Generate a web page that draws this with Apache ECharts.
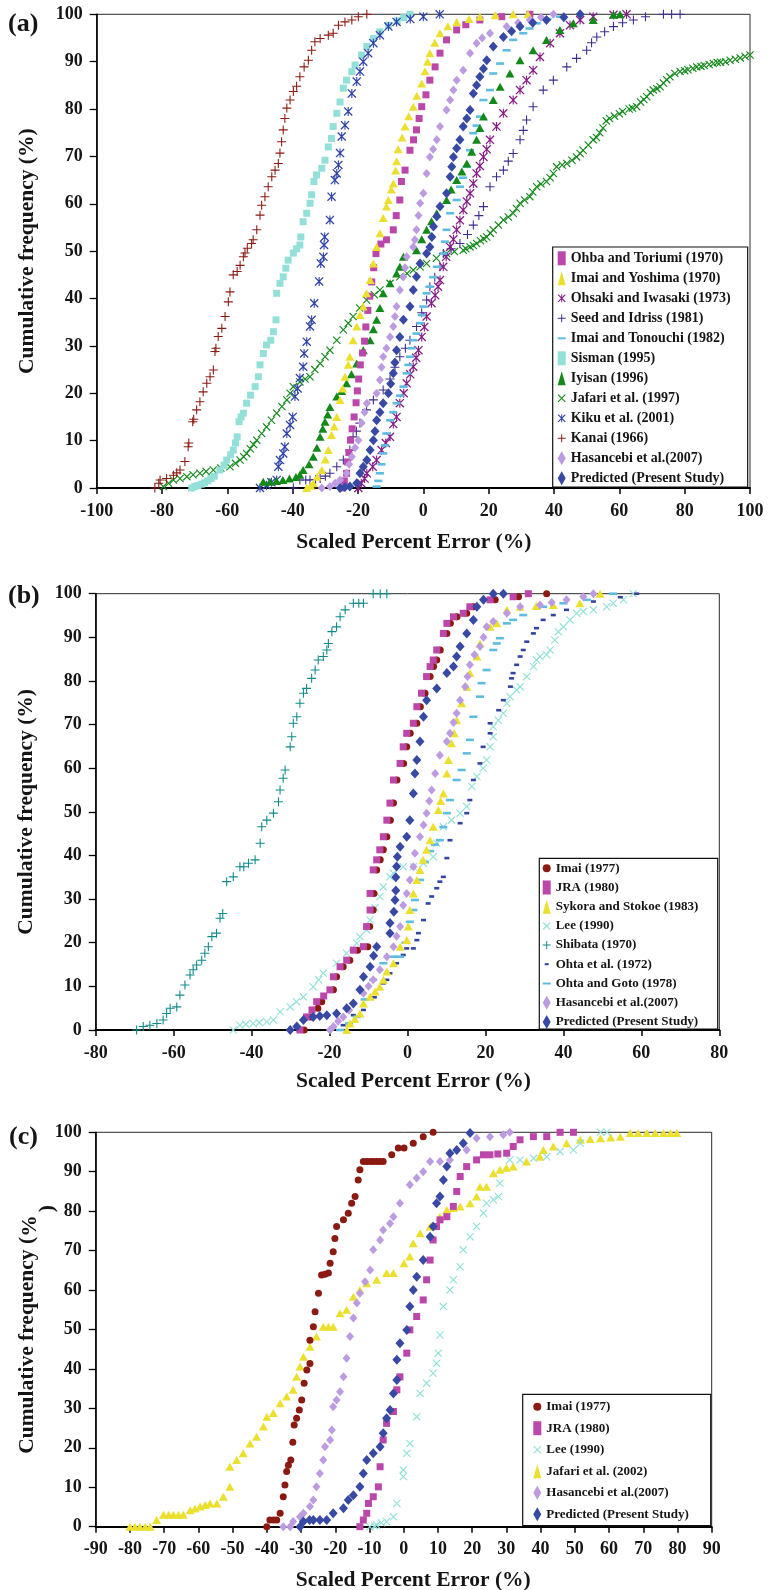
<!DOCTYPE html>
<html>
<head>
<meta charset="utf-8">
<script src="https://cdn.jsdelivr.net/npm/echarts@6.0.0/dist/echarts.min.js"></script>
<style>
html,body{margin:0;padding:0;background:#fff}
#chart{width:778px;height:1590px}
</style>
</head>
<body>
<div id="chart"></div>
<script>
// ---------- Panel (a): scaled percent error vs cumulative frequency ----------
const ohbaA = [[-25,0],[-24.2,1.5],[-23.5,3.1],[-23.2,5.5],[-22.8,7.5],[-22.3,10.1],[-21.8,12.5],[-21.2,15],[-20.6,18],[-20.2,20.5],[-19.8,23],[-19.3,26],[-18.6,28.5],[-18,31],[-17.6,34],[-17,37.5],[-16.4,40.5],[-15.8,43.5],[-15.2,46.5],[-14.5,49.5],[-13,51.5],[-11.3,52.4],[-9.2,54.5],[-8.3,57.5],[-7.2,60.8],[-6.7,64.7],[-5.6,67.1],[-4.1,71.3],[-3,73.5],[-2.1,75.6],[-1.3,78],[-0.5,80.5],[0.8,83],[2,86.1],[3.6,88.9],[5.1,91.8],[7.1,94.6],[10.2,96.7],[13,97.8],[17.3,98.8],[24,99.5],[32.6,100]];
const yoshimaA = [[-35.7,0],[-34.5,0.5],[-33.7,1],[-32.5,2.4],[-31.1,3.8],[-30,6],[-29.1,8],[-28.1,11.2],[-27.3,13],[-26.5,15],[-25.5,18.6],[-24.7,21],[-24,23.5],[-23,26],[-22.5,27.7],[-21.5,31.2],[-20.4,34.1],[-19.4,36.5],[-18.4,38.3],[-17.4,41.1],[-16.3,43.9],[-15.3,47.4],[-14.3,50.9],[-13.3,53.8],[-12.3,57],[-11.3,59.4],[-10.7,60.8],[-9.8,63],[-9.2,64.3],[-8.5,67],[-8.2,69],[-7.7,71.5],[-6.5,74],[-5.6,76.3],[-4.5,78.5],[-3.1,80.5],[-2,82.8],[-0.5,85.4],[0.5,88],[1.3,90],[2,91.8],[3.5,94],[5.1,96],[7.5,97.5],[10.2,98.4],[14,99],[17.3,99.5],[22,99.8],[27.5,100],[32,100]];
const ohsakiA = [[-19.9,0],[-19,1],[-18,2],[-17.3,3.1],[-15.5,4.5],[-14.3,5.9],[-12.8,8],[-11.5,9.5],[-10.2,10.8],[-9.2,13.5],[-8.2,15],[-7.2,17.9],[-6,20],[-5.1,22.1],[-4,24],[-3.1,25.6],[-2.2,27.5],[-1.5,29.1],[-0.5,31.9],[0.3,34],[1,36.2],[2.5,39],[3.6,40.7],[4.5,42.5],[5.1,43.9],[6.1,46.7],[7,48.8],[8.2,50.9],[9.2,52.5],[10.2,54.5],[11.2,56.5],[12.2,58.7],[13.3,60.5],[14.3,62.2],[15.3,64.3],[16.3,66.4],[17.3,68],[18.4,69.9],[19.4,71.5],[20.4,73.5],[22.4,76.3],[24.5,79.1],[27.5,81.9],[29.6,84],[31.6,86.1],[33.6,88.2],[35.7,91],[38.8,93.9],[41.8,96],[44.9,97.7],[48,98.8],[52,99.5],[58.2,99.9],[62.2,100]];
const seedA = [[-39.8,0],[-37.8,1.7],[-36,1.7],[-34.7,1.7],[-33,1.8],[-31.6,2],[-30,2.5],[-28.6,3.1],[-26.5,4.5],[-24.5,5.9],[-22.5,8],[-21.5,10.8],[-20.5,12],[-19.4,13.7],[-17.4,16.5],[-15.3,18.6],[-12.3,20.7],[-10.2,23],[-8.7,25.5],[-7.2,27.7],[-5.5,29.5],[-4.1,31.2],[-2.1,34.1],[-0.5,37],[1,39.7],[2,42.5],[3.5,44.5],[5.1,46.7],[6.1,49.5],[8.5,50.5],[11.2,51.6],[13.5,53.5],[15.3,55.5],[17,57.5],[18.4,59.4],[20.4,63.6],[22.4,65.7],[24.5,67.1],[26,69],[27.5,70.6],[29.6,73.5],[30.6,75.5],[31.6,77.7],[33.6,80.5],[36.7,84],[39.8,86.1],[43.9,88.9],[46.9,90.7],[50,92.4],[51.5,94],[53.1,95.2],[55.5,96.3],[58.2,97.4],[61,98.2],[64.3,98.8],[68,99.5],[73.5,100],[76,100],[78.6,100]];
const tonouchiA = [[-14.3,0.3],[-13.8,1.5],[-13.3,3.1],[-12.8,5],[-12.3,7.3],[-11.8,9],[-11.3,11.5],[-10.2,14.3],[-9.2,16],[-8.2,17.9],[-7.2,19.5],[-6.1,21.4],[-5.1,24.2],[-4.6,26],[-4.1,27.7],[-3.6,29.5],[-3.1,31.2],[-2.1,32.6],[-1,34.8],[-0.5,36.5],[0,38.3],[1,41.1],[2,42.5],[3,44.5],[4.1,46.7],[6.1,49.5],[6.6,52],[7.1,54.5],[8.2,58],[10.2,60.8],[11.2,63.6],[12.2,65.5],[13.3,67.8],[14.3,71.3],[15.3,74.9],[16.3,76.5],[17.3,78.4],[18.4,81.9],[20.4,84],[21.4,87.5],[23.5,89.6],[25.5,92.4],[27.5,94.6],[30.6,96],[32.5,97],[34.7,98.1],[38,99],[41.8,99.5],[48,100]];
const sismanA = [[-70.9,0],[-70,0.3],[-69,0.5],[-68,0.8],[-67,1.1],[-66,1.5],[-65,2],[-64,2.5],[-62.3,3.8],[-61,4.8],[-60.2,5.9],[-59,7],[-58.2,8],[-57.5,9.5],[-57,10.8],[-56.4,14],[-55.8,15],[-55.1,15.8],[-54.1,17.9],[-52.9,19.6],[-51.5,21.4],[-50.5,23.5],[-50,26],[-49,28.4],[-48,30.2],[-46.7,31.2],[-45.9,33],[-45.1,35.5],[-44.9,41.1],[-43.9,43.2],[-42.9,44.6],[-42.1,46.4],[-41.4,48.1],[-39.8,49.6],[-38.8,50.5],[-37.8,51.3],[-37.5,53],[-36.8,56.2],[-35.7,58],[-34.7,60.1],[-34.2,61.9],[-33.5,64.7],[-32.7,66.1],[-31.1,67.5],[-30.1,69.2],[-29.1,72],[-28.1,73.8],[-27.6,76.3],[-26.5,79.1],[-25.5,81.5],[-24.5,84.4],[-23.5,86.1],[-21.9,87.9],[-20.9,89.3],[-18.9,91.4],[-17.3,93.2],[-15.3,94.9],[-13.3,96.3],[-10.7,97.7],[-8,98.6],[-6,99.3],[-4.1,100]];
const iyisanA = [[-49,1.3],[-47,1.3],[-45,1.5],[-43,1.7],[-41,2],[-39,2.3],[-37.8,2.8],[-36.8,3.8],[-35,5],[-33.7,6.6],[-32.6,8.5],[-31.6,10.8],[-30.8,12.5],[-30.1,14],[-29.3,15.5],[-28.6,17.1],[-26.5,19.3],[-25,20.5],[-23.5,22.1],[-22,24],[-20.4,26.3],[-18.4,29.1],[-16.3,31.2],[-15.3,33.5],[-14.3,35.5],[-13.3,38],[-12.3,41.1],[-10.2,43.2],[-8.2,45.3],[-7.2,46.7],[-6.1,48.8],[-2.1,50.2],[-0.5,52.5],[1,54.5],[2.5,56.3],[4.1,58],[7.1,60.8],[8.5,63],[10.2,65],[11.8,66.8],[13.3,68.5],[14.8,71],[16.3,73.5],[17.3,76],[18.4,78.4],[21.4,81.9],[23.5,84.7],[26.5,87.5],[29.6,90.3],[33.6,92.4],[37.7,94.6],[41.8,96.7],[45.9,98.1],[52,98.8],[58.2,99.9],[60.2,100]];
const jafariA = [[-79.6,0.3],[-78,1],[-76.5,1.7],[-74.5,2],[-72.4,2.4],[-70.5,2.8],[-68.4,3.1],[-66.5,3.5],[-64.3,3.8],[-62,4.2],[-59.2,4.5],[-57.5,5.2],[-56.1,5.9],[-55,6.6],[-54.1,7.3],[-53,8.3],[-52,9.2],[-51,10.1],[-49.5,11.5],[-48,12.9],[-46.5,14.3],[-44.9,15.8],[-43.3,17.2],[-41.8,18.6],[-40.8,20],[-39.8,21.4],[-37.8,22.4],[-36.2,23],[-34.7,23.5],[-33.2,25],[-31.6,26.3],[-30.1,27.7],[-28.6,29.1],[-26.5,31.2],[-24.5,33.4],[-23,34.8],[-21.5,36.2],[-19.5,38],[-17.4,39.7],[-15,40.8],[-13.3,41.8],[-10.2,43.2],[-7.2,44.6],[-5,45.3],[-3.1,46],[-1,46.7],[1,47.4],[4,48.5],[7.1,49.5],[9.5,49.9],[12.2,50.2],[13,50.5],[14.3,50.9],[15.3,51.2],[16.3,51.6],[17.5,52.2],[18.5,52.6],[19.4,53],[20.5,53.8],[21.4,54.5],[23,55.5],[24.5,56.6],[26,57.2],[27.5,58],[28.5,59],[29.6,60.1],[31,60.8],[32.6,61.5],[33.5,62.5],[34.7,63.6],[36,64.2],[37.7,64.7],[38.8,65.5],[39.8,66.4],[40.8,67.8],[42.5,68.2],[43.9,68.5],[45.5,69.2],[46.9,69.9],[48,70.6],[48.9,71.3],[50.5,72.4],[52,73.5],[53,74],[54,75],[55,76],[56,77.5],[57,78],[58.5,78.5],[60,79],[61,79.5],[63,80],[64,80.2],[65.3,80.5],[66.5,81.5],[67.5,82],[68.4,82.6],[69.5,83.5],[70.4,84],[71.5,84.3],[72.5,84.7],[73.5,85.5],[74.5,86.2],[75.5,86.8],[77,87.5],[78.6,87.9],[80,88.1],[81,88.3],[82.5,88.6],[83.7,88.9],[85,89],[86,89.2],[87.5,89.4],[88.8,89.6],[90,89.8],[91,89.9],[92.5,90],[93.9,90.3],[95.5,90.5],[97,90.8],[98.5,91.1],[100,91.4]];
const kikuA = [[-50,0],[-48,0.6],[-46.5,1.2],[-44.9,1.7],[-44.4,4.5],[-43.9,5.9],[-42.9,7.3],[-42.4,8.7],[-41.8,11.5],[-40.8,13.3],[-40,15],[-39.3,19.3],[-38.5,21],[-37.8,23.2],[-36.8,25.6],[-36.5,28.4],[-35.7,30.9],[-34.7,34.1],[-34.2,35.5],[-33.4,39],[-31.9,43.6],[-31.4,47.4],[-30.6,48.8],[-30.4,51.3],[-30.2,53],[-28.6,56.6],[-28.1,61.5],[-27.1,65],[-26.5,66.4],[-26,68.2],[-25.5,70.7],[-25,74.2],[-24,76.6],[-23,79.5],[-21.9,83.3],[-20.4,85.8],[-19.4,87.9],[-18.4,90],[-16.9,91.8],[-15.3,93.9],[-13.3,95.6],[-10.7,97.4],[-8.2,98.4],[-4,99],[0,99.5],[5,100]];
const kanaiA = [[-82.2,0],[-81,1],[-80.6,1.7],[-78.6,2],[-76.5,2.7],[-75.5,3.2],[-74.5,3.8],[-73,5.6],[-72,8.7],[-71.8,9.5],[-70.6,14],[-70.3,14.5],[-69.4,16.5],[-68.4,18.2],[-67.4,20.3],[-66.3,22.1],[-65.3,23.5],[-64.3,24.9],[-63.8,28.8],[-63.5,29.5],[-62.8,32],[-61.7,33.7],[-60.7,36.2],[-59.7,39.3],[-59.2,41.4],[-58.2,45],[-57,45.7],[-56.1,47],[-55.1,48.8],[-54.6,49.6],[-53.9,50.6],[-52.6,51.6],[-52.1,52.4],[-51,54.5],[-50,57.6],[-49.5,59.7],[-48.5,61.5],[-47.5,63.6],[-46.4,65.7],[-45.4,67.1],[-44.4,68.5],[-43.9,70.7],[-43.4,73.1],[-42.9,75.6],[-42.4,78],[-41.8,80.2],[-40.8,81.9],[-39.8,83.7],[-38.8,84.8],[-37.8,86.8],[-36.5,88.9],[-35.2,90.3],[-34.2,92.4],[-33.2,94.2],[-31.6,94.9],[-29.1,95.6],[-27.6,96],[-26,97.7],[-24,98.4],[-21.9,98.8],[-19.9,99.5],[-17.3,100]];
const hasancebiA = [[-31.1,0],[-28.6,0.3],[-27,1],[-25.5,1.7],[-23.5,3.1],[-22.7,5],[-21.9,6.6],[-20.9,8.5],[-19.9,10.1],[-18.9,13.7],[-18,16],[-17.3,17.9],[-14.3,20],[-13.3,22.8],[-12.8,25.5],[-12.3,27.7],[-11.3,29.5],[-10.2,31.9],[-9.2,34.1],[-8.7,36.2],[-8.2,38.3],[-7.2,41.8],[-6.1,44.6],[-5.6,46.5],[-5.1,48.8],[-3.1,50.9],[-2.6,52.4],[-2.1,54.5],[-1.5,57.5],[-1,60.1],[0,62.2],[1,66.4],[2,69.9],[3,71.5],[4.1,73.5],[5.1,76.3],[7.1,79.8],[8.2,81.9],[9.2,84],[10.2,86.1],[12.2,88.2],[14.3,91.8],[16.3,93.9],[18,95],[20.4,96],[25.5,97.4],[29,98.2],[32.6,98.8],[36,99.4],[39.8,100]];
const predictedA = [[-25.5,0],[-24,0.2],[-22.5,0.3],[-20.4,1],[-19.4,3.1],[-18.4,4.5],[-17.3,5.9],[-16.3,8],[-15.3,10.1],[-14.8,12],[-14.3,14.3],[-13.3,16],[-12.3,17.9],[-10.7,20],[-10,22],[-9.2,24.2],[-8.7,26.5],[-8.2,29.1],[-7.2,31.9],[-6.1,35.5],[-4.1,38.3],[-3.1,41.8],[-2.1,44.6],[-1,47.4],[1,49.5],[2,50.9],[2.6,53],[3.1,55.2],[4.1,57.3],[5.1,59.4],[7.1,62.2],[8.2,65.7],[8.7,67.8],[9.2,69.9],[10.2,71.7],[11.2,73.5],[12.2,76.3],[13.3,78],[14.3,79.8],[15.3,83.3],[16.3,85],[17.3,86.8],[18.4,88.5],[19.4,90.3],[21.4,93.2],[24.5,95.2],[27,96.4],[29.6,97.4],[33.5,98.2],[37.7,98.8],[43,99.4],[48,100]];

// ---------- Panel (b) ----------
const imaiB = [[-26.5,0],[-24.8,3],[-23,5],[-22,6.5],[-19,9.2],[-18.2,12.2],[-16.5,14.5],[-14.8,16],[-12.8,18.3],[-10.2,19.1],[-9.7,23.7],[-8.8,27.5],[-8.6,31.3],[-7.9,36.7],[-7,39],[-6.2,41.3],[-5.3,44.3],[-4.4,48.1],[-3.6,52],[-2.7,57.3],[-1,61.1],[-0.2,64.9],[0.7,68],[2.4,70.3],[3.3,74.1],[4.5,77.2],[5.8,81],[6.7,83.3],[7.5,84.8],[8.4,87.1],[10.1,90.9],[11,93.2],[12.7,94.7],[15.2,95.5],[17,97],[22.5,98.6],[28.5,99.3],[35.7,100]];
const jraB = [[-27.6,0],[-25.9,3],[-24.5,4.6],[-23.3,6.5],[-21.5,7.8],[-19.9,9.2],[-19,12.2],[-17.3,14.5],[-15.6,16],[-13.9,18.3],[-11.3,19.1],[-10.5,23.7],[-9.6,27.5],[-9.6,31.3],[-8.8,36.7],[-7.9,39],[-7.1,41.3],[-6.2,44.3],[-5.3,48.1],[-4.5,52],[-3.6,57.3],[-1.9,61.1],[-1.1,64.9],[-0.2,68],[1.5,70.3],[2.4,74.1],[3.6,77.2],[4.9,81],[5.8,83.3],[6.6,84.8],[7.5,87.1],[9.2,90.9],[10.1,93.2],[11.8,94.7],[14.3,95.5],[16,97],[21.2,98.6],[27.1,99.3],[31,100]];
const sykoraB = [[-15.6,0],[-14.8,1.5],[-13.5,2.5],[-12.2,3.8],[-11.3,6.1],[-9.6,7.6],[-8.3,8.8],[-7.1,9.9],[-6.2,11.5],[-5.3,13.4],[-3.6,15.3],[-1.9,19.1],[-0.2,20.6],[0.2,23.7],[0.6,27.5],[1.5,31.3],[2.4,34.4],[3.2,36.7],[4,39],[4.9,41.3],[5.8,43.5],[6.6,46.6],[7.9,50.4],[8.5,52.5],[9.2,54.2],[10.1,58.8],[10.5,61.9],[11.3,65.7],[12,68],[12.6,71],[13.9,74.9],[15.2,78.7],[16,81.8],[17.8,85.6],[18.6,88.6],[21.2,92.4],[22.9,93.2],[25.5,96.3],[28.9,97],[33,97.2],[37.4,97.4],[44.2,97.8],[49.4,100]];
const leeB = [[-44.7,0],[-43,1.1],[-41.5,1.3],[-39.6,1.5],[-38,1.7],[-36.1,1.9],[-34.4,2.3],[-32.7,4.2],[-30.1,5.3],[-28.5,6.5],[-26.7,7.6],[-24.2,9.9],[-22.8,11.5],[-21.6,13],[-18.2,15.3],[-15.6,17.6],[-13,19.9],[-12.2,21.4],[-10.5,22.9],[-9.6,25.2],[-8.3,28],[-7.1,30.6],[-6.2,32.8],[-4.5,35.1],[-3.6,35.9],[-1.1,37.4],[1.5,37.4],[4.1,38.2],[6.6,39.7],[7.5,42.8],[9.2,46.6],[11.3,48.1],[13.5,49.7],[15.2,51.2],[16.5,55.8],[17.8,58.1],[19.4,60],[20.3,61.9],[21.2,64.9],[22,67.2],[22,69.5],[23.3,71],[24.6,72.6],[25.5,74.9],[26.3,76.4],[28,77.9],[28.9,78.7],[30.6,81],[32.3,83.3],[33.1,84.8],[34,85.6],[35.7,86],[36.6,87.1],[37.8,89.4],[38.7,91.3],[40,92.4],[41.7,94],[43.4,95.5],[45.1,95.9],[47.7,96.3],[51.1,97],[52.8,97.8],[55.4,98.6],[57.9,100]];
const shibataB = [[-69.5,0],[-67.8,0.8],[-66.1,1.1],[-64.3,1.5],[-62.7,2.3],[-61.8,3.8],[-60.9,5],[-59.2,5.3],[-58.4,8],[-57.1,10.3],[-55.8,12.6],[-55,13.8],[-54.1,14.9],[-52.8,16],[-52,17.6],[-51.1,19.1],[-50.2,21.4],[-49,22.2],[-48.1,25.6],[-47.4,26.7],[-46.4,34],[-44.7,35.1],[-43,37.4],[-42,37.4],[-40.8,38.2],[-39.1,39],[-37.8,42.8],[-37.4,46.6],[-36.1,48.1],[-34.4,49.7],[-33.1,52.3],[-32.7,55],[-31.9,57.7],[-31.4,59.6],[-30.1,64.9],[-29.7,67.2],[-29.3,70.3],[-28.4,71.8],[-27.6,74.9],[-26.7,77.2],[-25.9,78.3],[-24.6,80.6],[-23.7,82.5],[-22.9,84.8],[-21.6,85.6],[-20.7,87.1],[-20.3,88.6],[-19.4,91.3],[-18.2,92.4],[-17.3,94.7],[-16,96.3],[-13.9,97.8],[-12.5,97.8],[-11.3,97.8],[-8.8,100],[-7,100],[-5.3,100]];
const ohtaB = [[-16.5,1.1],[-13.9,3.4],[-11.3,4.6],[-8.5,7.5],[-6.2,10.7],[-5.3,11.5],[-4.5,13],[-2.8,15.3],[-1.1,17.2],[-0.2,18.7],[1.5,18.7],[2.4,20.6],[2.8,22.2],[4.1,25.2],[5.3,29],[6.2,30.6],[7.5,32.5],[8.3,34],[9.2,35.1],[10.1,39.4],[10.9,43.5],[13.5,47.4],[15.2,49.7],[16,52.7],[16.9,57.3],[18.6,61.1],[19.4,64.9],[21.2,68],[21.2,70.3],[23.4,73.3],[24.6,75.6],[26.4,78.7],[26.7,80.6],[27.1,81.8],[28,83.7],[28.9,85.6],[29.7,87.1],[30.6,89],[32.3,90.9],[33.1,92.1],[34.8,94],[37.4,95.1],[40.8,96.3],[47.7,98.2],[54.6,99.2],[58.8,100]];
const gotoB = [[-17.3,0],[-15,1.5],[-13,3],[-11,7],[-8.8,11.5],[-6.2,15.3],[-3.6,16.8],[-1.9,16.8],[-0.5,20],[0.6,24.8],[1.5,27.5],[1.9,29.8],[3.2,34.4],[4.5,38.5],[5.8,41],[7,42.5],[8.3,43.5],[9.2,46.5],[10.1,49.7],[10.9,52.7],[12.6,57.3],[13.9,59.6],[15.2,63.4],[16,66.5],[16.9,71.8],[18.6,76.4],[19,79.5],[20.3,82.5],[22,87.1],[22.9,88.6],[23.7,89.8],[25.5,93.2],[27.1,94],[29.7,95.1],[34.8,97],[40,97.8],[46,98.6],[52.8,100]];
const hasancebiB = [[-19.9,0],[-19,0.8],[-17.8,2],[-16.5,3],[-15,4.5],[-13.9,6.1],[-11.3,8.4],[-10,10],[-8.8,11.5],[-7.1,13.8],[-5.3,16.8],[-3.6,19.1],[-2.8,21.5],[-1.9,23.7],[-1.1,28.6],[-0.2,31.3],[0.6,34.4],[1.5,37.4],[1.9,40.5],[3.2,44.3],[4.1,47],[4.9,49.7],[5.6,52.5],[6.2,55],[7.1,58.8],[8.3,63],[10.1,66.1],[10.9,68],[11.8,70.5],[12.6,72.6],[13.5,75.6],[14.8,78.7],[15.4,81],[16,83.7],[17.2,86],[18.6,87.9],[19.5,90],[20.3,92.4],[22,93.6],[25.5,95.5],[28.9,97],[34,97.4],[37,98],[40.8,98.6],[45.1,99.3],[47.7,100]];
const predictedB = [[-30.1,0],[-28.4,0.8],[-26.7,2.3],[-24.2,3],[-22.5,3.2],[-20.7,3.4],[-18.2,3.8],[-15.6,5],[-13.9,6.1],[-12.2,9.2],[-11.3,12.2],[-9.6,14.5],[-8.7,17],[-7.9,19.1],[-4.5,22.2],[-4.5,24.5],[-3.5,27.1],[-3.2,29.8],[-3,32],[-3,35],[-2.8,37.5],[-2.6,39.7],[-1.9,42],[-0.2,44.3],[0.6,48.1],[1.5,54.2],[1.9,58.8],[2.4,61.9],[3.2,66.1],[4.1,71.8],[4.9,75.6],[7.5,78.3],[10.1,81.8],[11.8,83.3],[12.6,85.6],[13.5,87.9],[15.2,90.9],[16.9,94],[17.8,97],[19.5,98.6],[22,100],[24.6,100]];

// ---------- Panel (c) ----------
const imaiC = [[-40,0],[-39.1,1.7],[-38,1.7],[-37.1,1.7],[-36.1,3.4],[-35.2,7.6],[-34.7,10.6],[-34.2,14],[-33.7,15.6],[-33,16.9],[-32.4,21.4],[-32,25.8],[-31.3,27.5],[-30.5,29.6],[-29.8,32.1],[-29.1,36.4],[-28.3,39.7],[-27.4,41.4],[-27.4,47.3],[-26.4,50.7],[-25.9,54.5],[-24.9,59.2],[-24,63.8],[-23,64],[-22,64.3],[-21.5,66.8],[-20.6,69.7],[-20.1,73.1],[-19.6,76.1],[-17.6,77.8],[-16.2,79.5],[-15.2,82],[-14.2,83.7],[-13.3,87.9],[-12.8,90.5],[-11.8,92.6],[-10.8,92.6],[-9.8,92.6],[-8.9,92.6],[-7.9,92.6],[-7,92.6],[-6,92.6],[-3.5,94.3],[-1.6,96],[0.1,96],[2.8,97.2],[5.7,98.9],[8.6,100]];
const jraC = [[-12.8,0],[-11.8,1.7],[-10.8,3.4],[-10.3,5.9],[-8.9,7.6],[-7.4,10.1],[-6.9,15.2],[-6,22],[-5,26.2],[-3,29.2],[-2,34.7],[-1.1,38],[0.9,44],[1.8,49.9],[3.8,53.3],[5.7,57.5],[6.7,62.6],[7.7,67.6],[8.6,72.7],[9.6,76.1],[10.6,77.8],[12.6,78.6],[14.5,81.2],[15.5,85],[16.5,88.8],[18.4,91.3],[21.3,93],[23.3,94.3],[25.2,94.3],[27.5,94.5],[30.1,94.7],[32,96.4],[34,98.1],[37.9,98.9],[41.8,98.9],[45.7,100],[49.6,100]];
const leeC = [[-9.9,0],[-8.5,0.2],[-7.9,0.4],[-6.5,1],[-5,1.3],[-3,2.5],[-2,5.9],[-0.1,12.7],[-0.1,14.4],[0.9,18.6],[1.8,21.1],[3.8,27.9],[4.8,33.8],[6.7,36.4],[8.6,38.9],[9.6,41.4],[10.1,44],[10.6,48.6],[11.6,55.8],[13.5,60],[14.5,62.6],[16.5,65.9],[17.4,70.2],[19.4,73.5],[21.3,76.1],[23.3,79.5],[24.2,82],[26.2,82.9],[27.7,83.7],[28.1,87.1],[31,93],[34,93],[38,93.4],[41.8,93.8],[45.7,95.1],[49.6,95.5],[51.6,97.2],[57.5,100],[59.4,100]];
const jafariC = [[-80,0],[-78.5,0],[-77.1,0],[-75.5,0],[-74.1,0],[-72.2,1.7],[-70.2,3],[-68.7,3],[-67.3,3],[-65.8,3],[-64.4,3],[-62.4,4.2],[-61,4.6],[-59.5,5.1],[-58,5.5],[-56.6,5.9],[-54.6,5.9],[-52.7,7.6],[-50.8,10.1],[-50.8,15.2],[-48.8,16.9],[-46.9,18.6],[-44.9,21.1],[-43,22.8],[-41,25.4],[-40,27.9],[-38.1,28.8],[-36.1,31.3],[-34.2,33],[-32.3,34.7],[-31.3,38],[-30.3,40.6],[-29.3,43.1],[-27.4,45.6],[-25.5,48.2],[-23.5,50.7],[-22,50.7],[-20.6,50.7],[-18.6,54.1],[-16.7,55],[-14.7,58.3],[-12.8,60],[-10.8,61.7],[-7.9,62.6],[-5,64.3],[-3,64.3],[0.1,66.8],[1.8,68.5],[2.8,71.9],[4.8,74.4],[7.7,76.1],[10.6,78.6],[12.6,80.3],[14.5,80.8],[16.5,81.2],[19.4,82],[21.3,83.7],[22.3,86.2],[24.2,86.2],[26.2,89.6],[28.1,90.5],[30,91],[32,91.3],[35.9,92.6],[39.8,93.8],[40.8,95.5],[43.7,96.4],[47.6,97.2],[51.6,98.1],[54.5,98.3],[57.5,98.5],[60.5,98.7],[63.3,98.9],[66.2,99.8],[68.5,99.8],[71,99.8],[73.5,99.8],[75.9,99.8],[78,99.8],[79.8,99.8]];
const hasancebiC = [[-35.2,0],[-33.2,0],[-32.3,1.3],[-30.3,2.5],[-29.3,3.4],[-27.4,5.1],[-26.4,6.8],[-25.5,10.1],[-24.5,13.5],[-23.5,16.9],[-23,20.3],[-21.5,22],[-21,24.5],[-20.6,30.4],[-19.6,32.1],[-18.6,34.2],[-17.6,38],[-16.7,42.7],[-15.7,48.2],[-14.7,52.9],[-13.7,56.7],[-12.8,59.2],[-11.3,62.1],[-9.8,65.1],[-8.9,70.2],[-6.9,72.7],[-6,75.2],[-4,76.9],[-3,78.6],[-1.1,82],[1.8,86.7],[3.8,88.4],[5.7,90],[7.7,92.6],[10.6,92.6],[13.5,93],[18.4,95.5],[21.3,98.5],[25.2,98.9],[29.1,99.4],[31,100]];
const predictedC = [[-30.3,0],[-29.3,1.3],[-27.5,1.7],[-26.4,1.7],[-24.5,1.7],[-22.5,1.7],[-20.6,3.4],[-17.6,4.7],[-16.2,6.8],[-14.7,8],[-12.8,10.1],[-11.8,13.5],[-10.8,16.9],[-8.9,18.6],[-6.9,20.3],[-6,23.7],[-5,27.5],[-4,29.6],[-3,33.8],[-2,37.2],[-2,42.3],[-1.1,46.5],[0.9,49.9],[1.8,55.8],[2.8,60],[3.8,63.4],[5.7,67.6],[7.7,73.5],[8.6,76.1],[9.6,82],[10.6,83.7],[11.6,87.9],[12.6,91.3],[13.5,94.7],[15.5,95.5],[17.4,97.2],[19.4,99.8]];

// Axis ticks (labels come from these ranges)
const yTicks = {min: 0, max: 100, step: 10};
const xTicksA = {min: -100, max: 100, step: 20};
const xTicksB = {min: -80, max: 80, step: 20};
const xTicksC = {min: -90, max: 90, step: 10};

// ---------- styling ----------
const FONT = '"Liberation Serif", "Times New Roman", serif';
const INK = '#151515';
const PLUS = 'path://M4.4,0H5.6V4.4H10V5.6H5.6V10H4.4V5.6H0V4.4H4.4Z';
const CROSS = 'path://M0,1L1,0L10,9L9,10Z M9,0L10,1L1,10L0,9Z';
const STAR = 'path://M0,1L1,0L10,9L9,10Z M9,0L10,1L1,10L0,9Z M4.4,0H5.6V10H4.4Z';
const DASH_ICON = 'path://M0,3.5H10V6H0Z';
const SHORT_DASH_ICON = 'path://M0,0L0,0M2.5,3.6H7.5V6.2H2.5Z M10,10L10,10';

const C = {
  magenta: '#bb47aa', yellow: '#ebe030', purple: '#861b86', indigo: '#3d2d8f',
  skyblue: '#5cbde0', aqua: '#93e0d8', green: '#13891a', blue: '#2f42a6',
  darkred: '#8b1a12', lavender: '#bc9be0', predicted: '#3849a3', teal: '#0f8a8a',
  navy: '#33449e'
};

function sc(name, data, g, symbol, size, color) {
  return {
    type: 'scatter', name, data, xAxisIndex: g, yAxisIndex: g,
    symbol, symbolSize: size, itemStyle: {color, opacity: 1},
    silent: true, animation: false
  };
}

const series = [
  sc('Jafari et al. (1997)', jafariA, 0, CROSS, 8, C.green),
  sc('Kanai (1966)', kanaiA, 0, PLUS, 9, C.darkred),
  sc('Sisman (1995)', sismanA, 0, 'rect', 7, C.aqua),
  sc('Kiku et al. (2001)', kikuA, 0, STAR, 9, C.blue),
  sc('Seed and Idriss (1981)', seedA, 0, PLUS, 9, C.indigo),
  sc('Ohsaki and Iwasaki (1973)', ohsakiA, 0, STAR, 9, C.purple),
  sc('Imai and Tonouchi (1982)', tonouchiA, 0, 'rect', [8, 2.6], C.skyblue),
  sc('Iyisan (1996)', iyisanA, 0, 'triangle', [9, 8], C.green),
  sc('Ohba and Toriumi (1970)', ohbaA, 0, 'rect', 7, C.magenta),
  sc('Imai and Yoshima (1970)', yoshimaA, 0, 'triangle', [9, 8], C.yellow),
  sc('Hasancebi et al.(2007)', hasancebiA, 0, 'diamond', [8, 9], C.lavender),
  sc('Predicted (Present Study)', predictedA, 0, 'diamond', [9, 10], C.predicted),

  sc('Shibata (1970)', shibataB, 1, PLUS, 9, C.teal),
  sc('Lee (1990)', leeB, 1, CROSS, 8, C.aqua),
  sc('Ohta et al. (1972)', ohtaB, 1, 'rect', [5, 2.6], C.navy),
  sc('Ohta and Goto (1978)', gotoB, 1, 'rect', [8, 2.6], C.skyblue),
  sc('Sykora and Stokoe (1983)', sykoraB, 1, 'triangle', [9, 8], C.yellow),
  sc('Hasancebi et al.(2007)', hasancebiB, 1, 'diamond', [8, 9], C.lavender),
  sc('Imai (1977)', imaiB, 1, 'circle', 7, C.darkred),
  sc('JRA (1980)', jraB, 1, 'rect', 7, C.magenta),
  sc('Predicted (Present Study)', predictedB, 1, 'diamond', [9, 10], C.predicted),

  sc('Jafari et al. (2002)', jafariC, 2, 'triangle', [9, 8], C.yellow),
  sc('Lee (1990)', leeC, 2, CROSS, 8, C.aqua),
  sc('Imai (1977)', imaiC, 2, 'circle', 7, C.darkred),
  sc('JRA (1980)', jraC, 2, 'rect', 7, C.magenta),
  sc('Hasancebi et al.(2007)', hasancebiC, 2, 'diamond', [8, 9], C.lavender),
  sc('Predicted (Present Study)', predictedC, 2, 'diamond', [9, 10], C.predicted)
];

const grids = [
  {left: 96.7, top: 14.3, width: 653.3, height: 473.7},
  {left: 95.7, top: 593.7, width: 623.6, height: 436.3},
  {left: 95.7, top: 1132.3, width: 616, height: 394.4}
].map(g => Object.assign(g, {
  show: true, borderColor: '#2a2a2a', borderWidth: 1, backgroundColor: 'transparent',
  containLabel: false, outerBoundsMode: 'none'
}));

const labelStyle = {fontFamily: FONT, fontWeight: 'bold', fontSize: 18, color: INK};
const TITLE_SIZE = 21.5;

function xAxis(g, t, pad, gap) {
  return {
    type: 'value', gridIndex: g, min: t.min, max: t.max, interval: t.step,
    position: 'bottom', splitLine: {show: false},
    axisLine: {show: true, onZero: false, lineStyle: {color: '#000', width: 2}},
    axisTick: {show: true, inside: false, length: 6, lineStyle: {color: '#000', width: 1.5}},
    axisLabel: Object.assign({margin: 14}, labelStyle),
    name: 'Scaled Percent Error (%)', nameLocation: 'middle', nameGap: gap, nameMoveOverlap: false,
    nameTextStyle: {fontFamily: FONT, fontWeight: 'bold', fontSize: TITLE_SIZE, color: INK, padding: pad}
  };
}
function yAxis(g, nameOpts) {
  return Object.assign({
    type: 'value', gridIndex: g, min: yTicks.min, max: yTicks.max, interval: yTicks.step,
    position: 'left', splitLine: {show: false},
    axisLine: {show: true, onZero: false, lineStyle: {color: '#000', width: 1.6}},
    axisTick: {show: true, inside: false, length: 7, lineStyle: {color: '#000', width: 1.3}},
    axisLabel: Object.assign({margin: 14}, labelStyle),
    name: 'Cumulative frequency (%)', nameLocation: 'middle', nameGap: 58, nameRotate: 90,
    nameMoveOverlap: false,
    nameTextStyle: {fontFamily: FONT, fontWeight: 'bold', fontSize: TITLE_SIZE, color: INK}
  }, nameOpts || {});
}

// Panel (c) prints the closing "%)" of its axis title nudged toward the axis.
const yNameC = {
  name: '{a|Cumulative frequency (}{b|%}{c|)}',
  nameGap: 37,
  nameTextStyle: {
    fontFamily: FONT, fontWeight: 'bold', fontSize: TITLE_SIZE, color: INK,
    rich: {
      a: {fontFamily: FONT, fontWeight: 'bold', fontSize: TITLE_SIZE, color: INK},
      b: {fontFamily: FONT, fontWeight: 'bold', fontSize: TITLE_SIZE, color: INK, padding: [6, 0, 0, 0]},
      c: {fontFamily: FONT, fontWeight: 'bold', fontSize: TITLE_SIZE, color: INK, padding: [40, 0, 0, 3]}
    }
  }
};

const legendText = size => ({fontFamily: FONT, fontWeight: 'bold', fontSize: size, lineHeight: 14, color: INK});
const legendBase = {orient: 'vertical', itemWidth: 8, itemHeight: 14, padding: 0, selectedMode: false, z: 10};
const legends = [
  Object.assign({}, legendBase, {
    left: 557.7, top: 251.3, itemGap: 6, textStyle: legendText(14),
    data: ['Ohba and Toriumi (1970)', 'Imai and Yoshima (1970)', 'Ohsaki and Iwasaki (1973)',
      'Seed and Idriss (1981)', {name: 'Imai and Tonouchi (1982)', icon: DASH_ICON},
      'Sisman (1995)', 'Iyisan (1996)', 'Jafari et al. (1997)', 'Kiku et al. (2001)',
      'Kanai (1966)', 'Hasancebi et al.(2007)', 'Predicted (Present Study)']
  }),
  Object.assign({}, legendBase, {
    left: 542.7, top: 861.3, itemGap: 5.2, textStyle: legendText(13),
    data: ['Imai (1977)', 'JRA (1980)', 'Sykora and Stokoe (1983)', 'Lee (1990)', 'Shibata (1970)',
      {name: 'Ohta et al. (1972)', icon: SHORT_DASH_ICON}, {name: 'Ohta and Goto (1978)', icon: DASH_ICON},
      'Hasancebi et al.(2007)', 'Predicted (Present Study)']
  }),
  Object.assign({}, legendBase, {
    left: 533.3, top: 1399.7, itemGap: 7.5, textStyle: legendText(13),
    data: ['Imai (1977)', 'JRA (1980)', 'Lee (1990)', 'Jafari et al. (2002)',
      'Hasancebi et al.(2007)', 'Predicted (Present Study)']
  })
];

const panelTag = (text, x, y) => ({
  type: 'text', x, y, z: 10,
  style: {text, font: 'bold 26px ' + FONT, fill: INK, align: 'left', verticalAlign: 'middle'}
});
const legendBox = (x, y, w, h) => ({
  type: 'rect', z: 8, shape: {x, y, width: w, height: h},
  style: {fill: '#fff', stroke: '#111', lineWidth: 1.2}
});

const option = {
  animation: false,
  backgroundColor: '#fff',
  grid: grids,
  xAxis: [xAxis(0, xTicksA, [0, 19, 0, 0], 43), xAxis(1, xTicksB, [0, 0, 0, 12], 40), xAxis(2, xTicksC, [0, 0, 0, 19], 43)],
  yAxis: [yAxis(0), yAxis(1), yAxis(2, yNameC)],
  legend: legends,
  graphic: [
    legendBox(552.7, 247, 195, 240),
    legendBox(539.3, 858.3, 178.4, 170.7),
    legendBox(522.7, 1394.3, 188, 131.4),
    panelTag('(a)', 8, 24),
    panelTag('(b)', 8, 596.5),
    panelTag('(c)', 9, 1137)
  ],
  series
};

const chart = echarts.init(document.getElementById('chart'), null, {renderer: 'canvas'});
chart.setOption(option);
</script>
</body>
</html>
